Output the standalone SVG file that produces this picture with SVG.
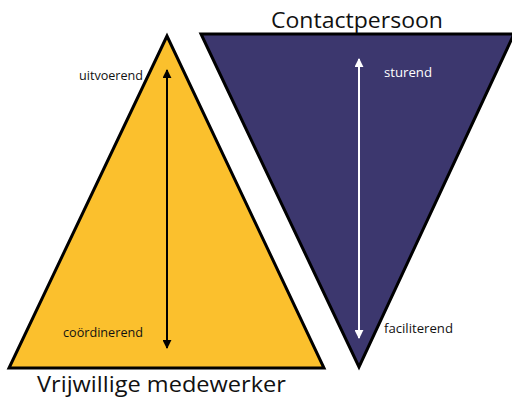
<svg xmlns="http://www.w3.org/2000/svg" width="512" height="397" viewBox="0 0 512 397">
  <style>
    .tri { stroke: #000; stroke-width: 3; stroke-linejoin: miter; }
    .lbl { font-family: "Open Sans", "Liberation Sans", sans-serif; font-size: 12.5px; }
    .title { font-family: "Open Sans", "Liberation Sans", sans-serif; font-size: 22px; fill: #111; }
  </style>
  <defs>
    <marker id="headBlack" viewBox="0 0 10 10" refX="9" refY="5" markerWidth="4.5" markerHeight="4.5" orient="auto-start-reverse">
      <path d="M0,0 L10,5 L0,10 Z" fill="#000"/>
    </marker>
    <marker id="headWhite" viewBox="0 0 10 10" refX="9" refY="5" markerWidth="4.5" markerHeight="4.5" orient="auto-start-reverse">
      <path d="M0,0 L10,5 L0,10 Z" fill="#fff"/>
    </marker>
  </defs>
  <rect width="512" height="397" fill="#fff"/>

  <g id="vrijwilliger">
    <polygon class="tri" points="167,36 9,368 324,368" fill="#FBC02D"/>
    <text class="lbl" x="79" y="80" fill="#111" textLength="64" lengthAdjust="spacingAndGlyphs">uitvoerend</text>
    <text class="lbl" x="63" y="337" fill="#111" textLength="80" lengthAdjust="spacingAndGlyphs">coördinerend</text>
    <text class="title" x="37" y="392" textLength="249" lengthAdjust="spacingAndGlyphs">Vrijwillige medewerker</text>
  </g>

  <g id="contactpersoon">
    <polygon class="tri" points="201,34 514,34 359,367" fill="#3C376E"/>
    <text class="lbl" x="384" y="77" fill="#fff" textLength="48" lengthAdjust="spacingAndGlyphs">sturend</text>
    <text class="lbl" x="384" y="333" fill="#111" textLength="69" lengthAdjust="spacingAndGlyphs">faciliterend</text>
    <text class="title" x="271" y="28" textLength="172" lengthAdjust="spacingAndGlyphs">Contactpersoon</text>
  </g>

  <g id="connectors">
    <line x1="167" y1="348" x2="167" y2="70" stroke="#000" stroke-width="2" marker-start="url(#headBlack)" marker-end="url(#headBlack)"/>
    <line x1="359" y1="338" x2="359" y2="59" stroke="#fff" stroke-width="2" marker-start="url(#headWhite)" marker-end="url(#headWhite)"/>
  </g>
</svg>
